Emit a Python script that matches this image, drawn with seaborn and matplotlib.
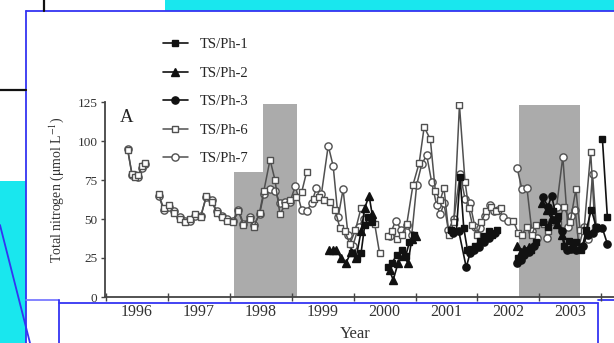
import numpy as np
import pandas as pd
import matplotlib
matplotlib.use("Agg")
import matplotlib.pyplot as plt
from matplotlib.patches import Rectangle
from matplotlib.lines import Line2D
import seaborn as sns

# ---- series data (decimal year, total nitrogen in umol/L); None marks a gap ----
ph7_year = [1996.35, 1996.42, 1996.47, 1996.52, 1996.58, 1996.63, None,
            1996.85, 1996.93, 1997.02, 1997.10, 1997.19, 1997.28, 1997.36, 1997.44, 1997.53,
            1997.62, 1997.71, 1997.79, 1997.87, 1997.95, 1998.05, 1998.14, 1998.22, 1998.32,
            1998.39, 1998.48, 1998.55, 1998.65, 1998.73, 1998.81, 1998.89, 1998.97, 1999.06,
            1999.16, 1999.24, 1999.32, 1999.40, 1999.48, 1999.59, 1999.67, 1999.75, 1999.83,
            1999.91, 1999.99, 2000.08, 2000.16, None,
            2000.58, 2000.68, 2000.77, 2000.86, 2000.94, 2001.02, 2001.10, 2001.18, 2001.26,
            2001.34, 2001.40, 2001.46, 2001.53, 2001.62, 2001.72, 2001.80, 2001.88, 2001.96,
            2002.04, 2002.12, 2002.20, 2002.27, 2002.34, 2002.42, 2002.50, None,
            2002.64, 2002.72, 2002.80, 2002.88, 2002.96, None,
            2003.12, 2003.20, 2003.28, 2003.38, 2003.46, 2003.52, 2003.58, 2003.64, 2003.72,
            2003.78, 2003.86, 2003.92]
ph7_val = [95, 78, 78, 77, 83, 85, None,
           65, 56, 58, 55, 51, 49, 49, 52, 52,
           64, 62, 55, 52, 50, 49, 56, 47, 51,
           46, 53, 66, 69, 68, 60, 61, 61, 71,
           56, 55, 60, 70, 66, 97, 84, 51, 69,
           40, 33, 45, 50, None,
           39, 49, 43, 46, 40, 72, 85, 91, 74,
           59, 53, 60, 43, 50, 79, 63, 60, 45,
           44, 52, 59, 55, 56, 51, 49, None,
           83, 69, 70, 42, 38, None,
           38, 49, 58, 90, 45, 52, 56, 32, 45,
           37, 79, 45]

ph6_year = [1996.35, 1996.42, 1996.47, 1996.52, 1996.58, 1996.63, None,
            1996.85, 1996.93, 1997.02, 1997.10, 1997.19, 1997.28, 1997.36, 1997.44, 1997.53,
            1997.62, 1997.71, 1997.79, 1997.87, 1997.95, 1998.05, 1998.14, 1998.22, 1998.32,
            1998.39, 1998.48, 1998.55, 1998.65, 1998.73, 1998.81, 1998.89, 1998.97, 1999.07,
            1999.16, 1999.24, None,
            1999.36, 1999.44, 1999.52, 1999.62, 1999.70, 1999.78, 1999.86, 1999.94, 2000.03,
            2000.12, 2000.20, 2000.28, 2000.34, 2000.42, None,
            2000.55, 2000.62, 2000.70, 2000.78, 2000.86, 2000.96, 2001.06, 2001.14, 2001.24,
            2001.32, 2001.40, 2001.46, 2001.54, 2001.62, 2001.71, 2001.80, 2001.86, 2001.92,
            2002.00, 2002.06, 2002.14, 2002.22, 2002.30, 2002.38, None,
            2002.58, 2002.66, 2002.72, 2002.80, 2002.88, 2002.94, None,
            2003.08, 2003.14, 2003.22, 2003.30, 2003.40, 2003.50, 2003.59, 2003.66, 2003.72,
            2003.83, 2003.90]
ph6_val = [94, 79, 77, 78, 84, 86, None,
           66, 57, 59, 54, 50, 48, 50, 53, 51,
           65, 61, 54, 51, 49, 48, 55, 46, 50,
           45, 54, 68, 88, 75, 53, 59, 62, 64,
           67, 80, None,
           63, 64, 62, 61, 56, 44, 42, 34, 43,
           57, 50, 49, 47, 28, None,
           39, 42, 37, 40, 47, 72, 86, 109, 101,
           68, 62, 70, 40, 48, 123, 74, 57, 46,
           40, 48, 55, 58, 55, 57, None,
           49, 41, 40, 45, 40, 46, None,
           47, 42, 54, 47, 58, 48, 69, 43, 42,
           93, 44]

ph1_year = [1999.98, 2000.06, 2000.12, 2000.18, 2000.24, 2000.30, None,
            2000.56, 2000.62, 2000.70, 2000.78, 2000.84, 2000.90, 2000.98, None,
            2001.58, 2001.66, 2001.72, 2001.78, 2001.84, 2001.90, 2001.96, 2002.04, 2002.10,
            2002.18, 2002.24, 2002.32, None,
            2002.66, 2002.72, 2002.78, 2002.86, 2002.94, None,
            2003.06, 2003.14, 2003.22, 2003.30, 2003.40, 2003.48, 2003.54, 2003.60, 2003.68,
            2003.76, 2003.84, 2003.92, None,
            2004.02, 2004.10]
ph1_val = [28, 25, 28, 46, 51, 48, None,
           19, 22, 27, 30, 26, 35, 40, None,
           43, 42, 77, 44, 30, 31, 33, 36, 39,
           42, 40, 43, None,
           25, 27, 29, 30, 35, None,
           48, 45, 55, 52, 33, 36, 32, 35, 30,
           43, 56, 45, None,
           101, 51]

ph2_year = [1999.60, 1999.66, 1999.72, 1999.80, 1999.88, 1999.96, 2000.04, 2000.12, 2000.18,
            2000.25, 2000.30, None,
            2000.58, 2000.64, 2000.72, 2000.80, 2000.88, 2000.94, 2001.00, None,
            2002.64, 2002.70, 2002.76, 2002.84, None,
            2003.04, 2003.12, 2003.20, 2003.28, 2003.36]
ph2_val = [30, 30, 30, 25, 22, 29, 25, 42, 57,
           65, 53, None,
           17, 11, 22, 26, 22, 37, 39, None,
           33, 29, 31, 32, None,
           60, 56, 50, 47, 40]

ph3_year = [2001.60, 2001.70, 2001.82, 2001.88, 2001.94, 2002.02, 2002.10, 2002.18, 2002.28, None,
            2002.64, 2002.70, 2002.76, 2002.84, 2002.92, None,
            2003.06, 2003.14, 2003.20, 2003.28, 2003.36, 2003.44, 2003.52, 2003.60, 2003.70,
            2003.78, 2003.86, 2003.94, 2004.02, 2004.10]
ph3_val = [41, 42, 19, 28, 30, 32, 35, 38, 41, None,
           22, 24, 27, 29, 33, None,
           64, 58, 65, 50, 42, 30, 31, 30, 33,
           40, 41, 44, 44, 34]

# shaded periods: start, end, top of shading
shade_start = [1998.07, 1998.54, 2002.67]
shade_end = [1998.54, 1999.08, 2003.66]
shade_top = [80, 124, 123]

year_labels = ["1996", "1997", "1998", "1999", "2000", "2001", "2002", "2003"]
y_ticks = [0, 25, 50, 75, 100, 125]

series = [
    ("TS/Ph-1", ph1_year, ph1_val),
    ("TS/Ph-2", ph2_year, ph2_val),
    ("TS/Ph-3", ph3_year, ph3_val),
    ("TS/Ph-6", ph6_year, ph6_val),
    ("TS/Ph-7", ph7_year, ph7_val),
]


def to_frame(name, years, vals):
    seg, rows = 0, []
    for yr, v in zip(years, vals):
        if yr is None:
            seg += 1
            continue
        rows.append((name, seg, yr, v))
    return pd.DataFrame(rows, columns=["series", "segment", "year", "tn"])


frames = {name: to_frame(name, yrs, vs) for name, yrs, vs in series}

DARK = "#111111"
GREY = "#505050"
styles = {
    "TS/Ph-1": dict(color=DARK, marker="s", mfc=DARK, mec=DARK, ms=4.8, lw=1.2),
    "TS/Ph-2": dict(color=DARK, marker="^", mfc=DARK, mec=DARK, ms=5.2, lw=1.2),
    "TS/Ph-3": dict(color=DARK, marker="o", mfc=DARK, mec=DARK, ms=5.2, lw=1.2),
    "TS/Ph-6": dict(color=GREY, marker="s", mfc="white", mec=GREY, ms=4.8, lw=1.1),
    "TS/Ph-7": dict(color=GREY, marker="o", mfc="white", mec=GREY, ms=5.2, lw=1.1),
}

sns.set_style("white")
plt.rcParams["font.family"] = ["Liberation Serif", "DejaVu Serif"]
plt.rcParams["mathtext.fontset"] = "stix"

W, H = 614, 343
fig = plt.figure(figsize=(W / 100, H / 100), dpi=100)


def fx(x):
    return x / W


def fy(y):
    return 1 - y / H


def box(x0, y0, x1, y1, color):
    fig.add_artist(Rectangle((fx(x0), fy(y1)), fx(x1) - fx(x0), fy(y0) - fy(y1),
                             transform=fig.transFigure, facecolor=color,
                             edgecolor="none", zorder=-2))


def seg(x0, y0, x1, y1, color, lw=1.3):
    fig.add_artist(Line2D([fx(x0), fx(x1)], [fy(y0), fy(y1)], transform=fig.transFigure,
                          color=color, lw=lw, zorder=-1))


# slide background pieces around the chart panel
CYAN = "#19e7ee"
BLUE = "#3434f2"
box(165, 0, W, 11, CYAN)
box(0, 181, 26, H, CYAN)
seg(26, 11, W, 11, BLUE)
seg(26, 11, 26, H, BLUE)
seg(44, 0, 44, 11, "#111111", 1.6)
seg(0, 90, 26, 90, "#111111", 1.6)
seg(0, 225, 30, H, BLUE)
seg(26, 300, 59, 300, "#7a7aff")
seg(59, 300, 59, H, BLUE)
seg(59, 303, 598, 303, BLUE)
seg(598, 303, 598, H, BLUE)
seg(598, 300, W, 300, BLUE)

# plotting area
ax_left, ax_right, ax_top, ax_bottom = 105, W, 102, 297
ax = fig.add_axes([fx(ax_left), fy(ax_bottom), fx(ax_right) - fx(ax_left),
                   fy(ax_top) - fy(ax_bottom)])
ax.patch.set_visible(False)

x0_year, px_per_year = 1996.0, 61.9
ax.set_xlim(x0_year - (106 - ax_left) / px_per_year,
            x0_year + (ax_right - 106) / px_per_year)
ax.set_ylim(0, 125)

ax.bar(shade_start, shade_top, width=np.subtract(shade_end, shade_start), align="edge",
       color="#ababab", edgecolor="none", zorder=0)

for name in ["TS/Ph-7", "TS/Ph-6", "TS/Ph-2", "TS/Ph-1", "TS/Ph-3"]:
    st = styles[name]
    sns.lineplot(data=frames[name], x="year", y="tn", units="segment", estimator=None,
                 sort=False, ax=ax, color=st["color"], lw=st["lw"], marker=st["marker"],
                 markersize=st["ms"], markerfacecolor=st["mfc"], markeredgecolor=st["mec"],
                 markeredgewidth=1.0, legend=False, zorder=3)

AXC = "#444444"
for side in ["top", "right"]:
    ax.spines[side].set_visible(False)
for side in ["left", "bottom"]:
    ax.spines[side].set_color(AXC)
    ax.spines[side].set_linewidth(1.3)

ax.set_yticks(y_ticks)
ax.set_yticklabels([str(t) for t in y_ticks], fontsize=9.5, color="#333333")
ax.tick_params(axis="y", direction="out", length=3, width=1.0, color=AXC, pad=2.5, left=True)

years = np.arange(1996, 2005)
ax.set_xticks(years)
ax.set_xticklabels([])
ax.set_xticks(np.arange(1996, 2004) + 0.5, minor=True)
ax.set_xticklabels(year_labels, minor=True, fontsize=11.5, color="#333333")
ax.tick_params(axis="x", which="major", direction="inout", length=6, width=1.0, color=AXC,
               bottom=True)
ax.tick_params(axis="x", which="minor", length=0, pad=5, bottom=True)

ax.set_xlabel("")
ax.set_ylabel("")
fig.text(fx(57), fy(190), r"Total nitrogen ($\mathrm{\mu}$mol L$^{-1}$)", rotation=90,
         ha="center", va="center", fontsize=10, color="#333333")
fig.text(fx(355), fy(334), "Year", ha="center", va="center", fontsize=12, color="#333333")
fig.text(fx(120), fy(117), "A", ha="left", va="center", fontsize=13.5, color="#222222")

handles = []
for name, _, _ in series:
    st = styles[name]
    handles.append(Line2D([], [], color=st["color"], lw=st["lw"], marker=st["marker"],
                          markersize=st["ms"], markerfacecolor=st["mfc"],
                          markeredgecolor=st["mec"], markeredgewidth=1.0, label=name))
ax.legend(handles=handles, loc="upper left", bbox_to_anchor=(fx(163), fy(38)),
          bbox_transform=fig.transFigure, frameon=False, borderpad=0, borderaxespad=0,
          handlelength=1.7, handletextpad=0.85, labelspacing=1.05,
          prop={"family": "Liberation Serif", "size": 10.5})

fig.savefig("out.png", dpi=100)
